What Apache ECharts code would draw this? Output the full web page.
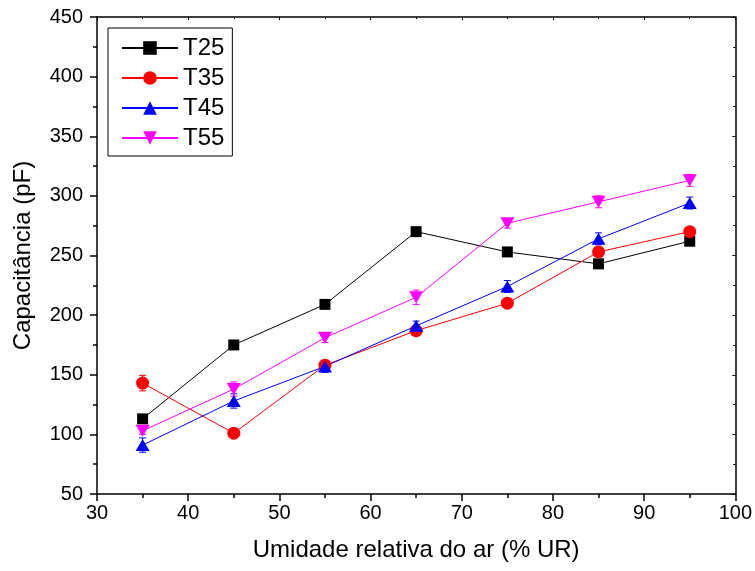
<!DOCTYPE html>
<html>
<head>
<meta charset="utf-8">
<script src="https://cdn.jsdelivr.net/npm/echarts@6/dist/echarts.min.js"></script>
<style>
  html, body { margin: 0; padding: 0; background: #fff; }
  #chart { width: 755px; height: 571px; }
</style>
</head>
<body>
<div id="chart"></div>
<script>
// Relative humidity (% UR) at which capacitance was measured
const humidity = [35, 45, 55, 65, 75, 85, 95];

// Capacitance (pF) per temperature
const t25 = [113, 175, 209, 270, 253, 243, 262];
const t35 = [143, 101, 158, 187, 210, 253, 270];
const t45 = [91, 128, 157, 191, 224, 264, 294];
const t55 = [103, 138, 181, 215, 277, 295, 313];

// Standard deviations (pF)
const t25Err = [3, 3, 3, 3, 3, 3, 3];
const t35Err = [6.5, 3, 3, 3, 3, 3, 3];
const t45Err = [6, 6, 5, 4, 5, 5, 5];
const t55Err = [3, 6, 4, 6, 4, 5, 5];

const seriesNames = ['T25', 'T35', 'T45', 'T55'];
const FONT = '"Liberation Sans", Arial, sans-serif';

const specs = [
  { name: seriesNames[0], values: t25, errs: t25Err, color: '#000000', symbol: 'rect', size: 11, rotate: 0 },
  { name: seriesNames[1], values: t35, errs: t35Err, color: '#ff0000', symbol: 'circle', size: 13, rotate: 0 },
  { name: seriesNames[2], values: t45, errs: t45Err, color: '#0000ff', symbol: 'triangle', size: [14, 12], rotate: 0 },
  { name: seriesNames[3], values: t55, errs: t55Err, color: '#ff00ff', symbol: 'triangle', size: [14, 12], rotate: 180 }
];

function errorBar(color) {
  return function (params, api) {
    const x = api.value(0), y = api.value(1), e = api.value(2);
    const hi = api.coord([x, y + e]);
    const lo = api.coord([x, y - e]);
    const w = 3.5;
    const style = { stroke: color, lineWidth: 1 };
    return {
      type: 'group',
      children: [
        { type: 'line', shape: { x1: hi[0], y1: hi[1], x2: lo[0], y2: lo[1] }, style },
        { type: 'line', shape: { x1: hi[0] - w, y1: hi[1], x2: hi[0] + w, y2: hi[1] }, style },
        { type: 'line', shape: { x1: lo[0] - w, y1: lo[1], x2: lo[0] + w, y2: lo[1] }, style }
      ]
    };
  };
}

const series = [];
specs.forEach(function (s) {
  series.push({
    name: s.name,
    type: 'line',
    data: humidity.map(function (h, i) { return [h, s.values[i]]; }),
    symbol: s.symbol,
    symbolSize: s.size,
    symbolRotate: s.rotate,
    lineStyle: { color: s.color, width: 1 },
    itemStyle: { color: s.color },
    z: 3
  });
  series.push({
    name: s.name + ' err',
    type: 'custom',
    data: humidity.map(function (h, i) { return [h, s.values[i], s.errs[i]]; }),
    renderItem: errorBar(s.color),
    z: 2,
    silent: true
  });
});

const axisLineStyle = { color: '#000', width: 1.5 };

const option = {
  animation: false,
  backgroundColor: '#fff',
  grid: { left: 97, right: 14, top: 17, bottom: 77 },
  legend: {
    data: seriesNames,
    orient: 'vertical',
    left: 108,
    top: 28,
    padding: [8, 8, 6, 13],
    borderColor: '#000',
    borderWidth: 1,
    itemWidth: 56,
    itemHeight: 17,
    itemGap: 6,
    textStyle: { fontFamily: FONT, fontSize: 24, color: '#000', lineHeight: 24 }
  },
  xAxis: [
    {
      type: 'value', min: 30, max: 100, interval: 10,
      name: 'Umidade relativa do ar (% UR)',
      nameLocation: 'middle', nameGap: 44,
      nameTextStyle: { fontFamily: FONT, fontSize: 24, color: '#000' },
      axisLine: { onZero: false, lineStyle: axisLineStyle },
      axisTick: { inside: false, length: 7, lineStyle: axisLineStyle },
      minorTick: { show: true, splitNumber: 2, length: 4, lineStyle: { color: '#000', width: 1.5 } },
      axisLabel: { fontFamily: FONT, fontSize: 20, color: '#000', margin: 9 },
      splitLine: { show: false }
    },
    {
      type: 'value', min: 30, max: 100, interval: 10, position: 'top',
      axisLine: { onZero: false, lineStyle: axisLineStyle },
      axisTick: { inside: true, length: 3, lineStyle: { color: '#000', width: 1 } },
      minorTick: { show: true, splitNumber: 2, length: 2, lineStyle: { color: '#000', width: 1 } },
      axisLabel: { show: false },
      splitLine: { show: false }
    }
  ],
  yAxis: [
    {
      type: 'value', min: 50, max: 450, interval: 50,
      name: 'Capacitância (pF)',
      nameLocation: 'middle', nameGap: 62,
      nameTextStyle: { fontFamily: FONT, fontSize: 24, color: '#000' },
      axisLine: { show: true, onZero: false, lineStyle: axisLineStyle },
      axisTick: { show: true, inside: false, length: 7, lineStyle: axisLineStyle },
      minorTick: { show: true, splitNumber: 2, length: 4, lineStyle: { color: '#000', width: 1.5 } },
      axisLabel: { fontFamily: FONT, fontSize: 20, color: '#000', margin: 14 },
      splitLine: { show: false }
    },
    {
      type: 'value', min: 50, max: 450, interval: 50, position: 'right',
      axisLine: { show: true, onZero: false, lineStyle: axisLineStyle },
      axisTick: { show: true, inside: true, length: 3, lineStyle: { color: '#000', width: 1 } },
      minorTick: { show: true, splitNumber: 2, length: 2, lineStyle: { color: '#000', width: 1 } },
      axisLabel: { show: false },
      splitLine: { show: false }
    }
  ],
  series: series
};

const chart = echarts.init(document.getElementById('chart'), null, { renderer: 'canvas' });
chart.setOption(option);
</script>
</body>
</html>
